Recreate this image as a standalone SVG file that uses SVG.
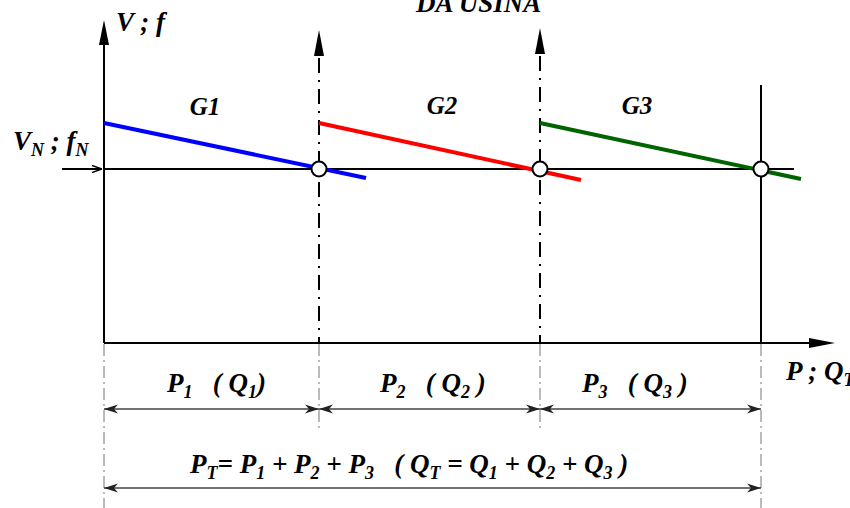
<svg xmlns="http://www.w3.org/2000/svg" width="850" height="508" viewBox="0 0 850 508">
<style>
text{font-family:"Liberation Serif","Times New Roman",serif;font-weight:bold;font-style:italic;fill:#000;white-space:pre}
.lab{font-size:27px}
.g{font-size:25px}
.sub{font-size:18px}
.axis{stroke:#000;stroke-width:2;fill:none}
.dd{stroke:#000;stroke-width:2;stroke-dasharray:15 7 2 7;fill:none}
.ext{stroke:#777;stroke-width:1;stroke-dasharray:12 4 2 4;fill:none}
.dim{stroke:#444;stroke-width:1.3;fill:none;marker-start:url(#da);marker-end:url(#da)}
.node{fill:#fff;stroke:#000;stroke-width:2}
</style>
<defs>
<marker id="da" viewBox="0 0 14 10" refX="14" refY="5" markerWidth="14" markerHeight="10" markerUnits="userSpaceOnUse" orient="auto-start-reverse">
<path d="M0,0.5 L14,5 L0,9.5 L4,5 Z" fill="#222"/>
</marker>
<marker id="sa" viewBox="0 0 10 8" refX="10" refY="4" markerWidth="10" markerHeight="8" markerUnits="userSpaceOnUse" orient="auto">
<path d="M0,0.5 L10,4 L0,7.5" fill="none" stroke="#000" stroke-width="1.5"/>
</marker>
</defs>
<g id="connectors">
<line class="axis" x1="104" y1="343" x2="104" y2="44"/>
<path d="M99,45 L104,20 L109,45 Z" fill="#000"/>
<line class="axis" x1="104" y1="343" x2="810" y2="343"/>
<path d="M809,338 L835,343 L809,348 Z" fill="#000"/>
<line x1="62" y1="169" x2="102" y2="169" stroke="#000" stroke-width="2" marker-end="url(#sa)"/>
<line class="axis" x1="104" y1="169" x2="794" y2="169"/>
<line class="dd" x1="319" y1="58" x2="319" y2="343"/>
<path d="M314,56 L319,30 L324,56 Z" fill="#000"/>
<line class="dd" x1="540" y1="56" x2="540" y2="343"/>
<path d="M535,54 L540,28 L545,54 Z" fill="#000"/>
<line class="axis" x1="761" y1="85" x2="761" y2="343"/>
<line class="ext" x1="104" y1="344" x2="104" y2="508"/>
<line class="ext" x1="319" y1="344" x2="319" y2="432"/>
<line class="ext" x1="540" y1="344" x2="540" y2="431"/>
<line class="ext" x1="761" y1="344" x2="761" y2="508"/>
<line x1="104" y1="123" x2="366" y2="178" stroke="#0000ff" stroke-width="4"/>
<line x1="319" y1="123" x2="581" y2="180" stroke="#ff0000" stroke-width="4"/>
<line x1="540" y1="123" x2="801" y2="179" stroke="#006400" stroke-width="4"/>
<line class="dim" x1="104" y1="409" x2="319" y2="409"/>
<line class="dim" x1="319" y1="409" x2="540" y2="409"/>
<line class="dim" x1="540" y1="409" x2="761" y2="409"/>
<line class="dim" x1="104" y1="488" x2="761" y2="488"/>
</g>
<g id="n1"><circle class="node" cx="319" cy="169" r="7.5"/></g>
<g id="n2"><circle class="node" cx="540" cy="169" r="7.5"/></g>
<g id="n3"><circle class="node" cx="761" cy="169" r="7.5"/></g>
<g id="labels">
<text class="lab" x="416" y="12">DA USINA</text>
<text class="lab" x="116" y="31">V ; f</text>
<text class="lab" x="13" y="150">V<tspan class="sub" dy="6">N</tspan><tspan dy="-6"> ; f</tspan><tspan class="sub" dy="6">N</tspan></text>
<text class="g" x="205" y="115" text-anchor="middle">G1</text>
<text class="g" x="442" y="114" text-anchor="middle">G2</text>
<text class="g" x="637" y="114" text-anchor="middle">G3</text>
<text class="lab" x="786" y="380">P ; Q<tspan class="sub" dy="6">T</tspan></text>
<text class="lab" x="167" y="392">P<tspan class="sub" dy="6">1</tspan><tspan dy="-6">   ( Q</tspan><tspan class="sub" dy="6">1</tspan><tspan dy="-6">)</tspan></text>
<text class="lab" x="380" y="392">P<tspan class="sub" dy="6">2</tspan><tspan dy="-6">   ( Q</tspan><tspan class="sub" dy="6">2</tspan><tspan dy="-6"> )</tspan></text>
<text class="lab" x="582" y="392">P<tspan class="sub" dy="6">3</tspan><tspan dy="-6">   ( Q</tspan><tspan class="sub" dy="6">3</tspan><tspan dy="-6"> )</tspan></text>
<text class="lab" x="190" y="473">P<tspan class="sub" dy="6">T</tspan><tspan dy="-6">= P</tspan><tspan class="sub" dy="6">1</tspan><tspan dy="-6"> + P</tspan><tspan class="sub" dy="6">2</tspan><tspan dy="-6"> + P</tspan><tspan class="sub" dy="6">3</tspan><tspan dy="-6">   ( Q</tspan><tspan class="sub" dy="6">T</tspan><tspan dy="-6"> = Q</tspan><tspan class="sub" dy="6">1</tspan><tspan dy="-6"> + Q</tspan><tspan class="sub" dy="6">2</tspan><tspan dy="-6"> + Q</tspan><tspan class="sub" dy="6">3</tspan><tspan dy="-6"> )</tspan></text>
</g>
</svg>
